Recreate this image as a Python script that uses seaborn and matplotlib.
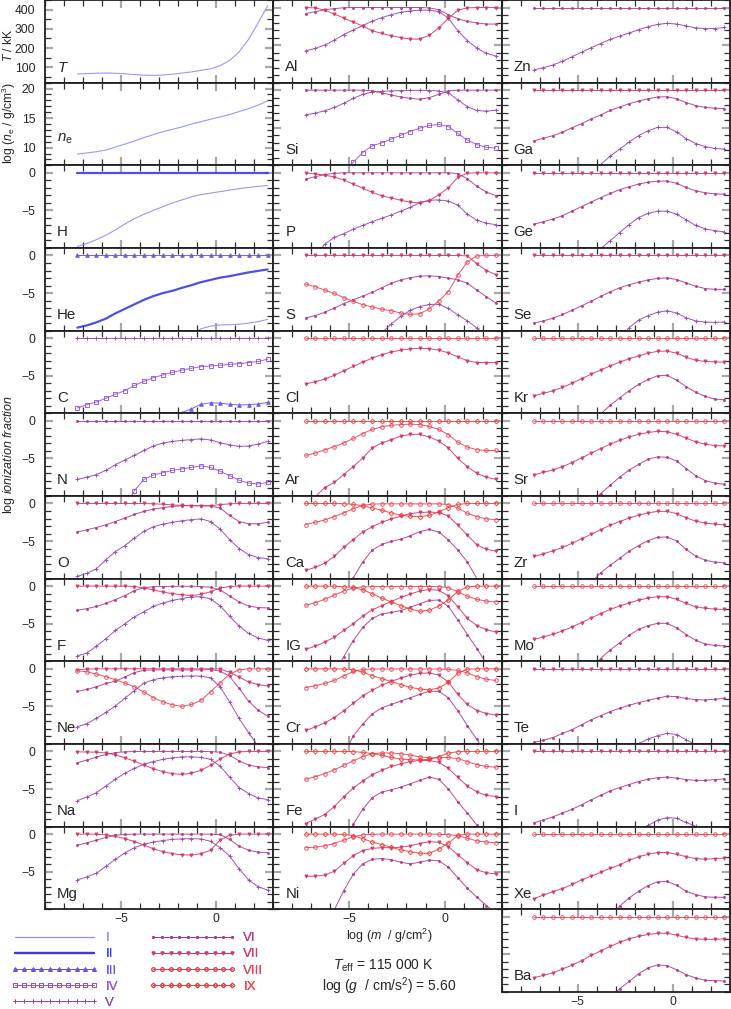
import matplotlib
matplotlib.use('Agg')
import matplotlib.pyplot as plt
from matplotlib.lines import Line2D
from matplotlib.ticker import FixedLocator, MultipleLocator
import seaborn as sns

N = float('nan')

# ===[ Data: ]=================================================================
LOG_M = [-7.3, -6.8, -6.3, -5.8, -5.3, -4.8, -4.3, -3.8, -3.3, -2.8, -2.3,
         -1.8, -1.3, -0.8, -0.3, 0.2, 0.7, 1.2, 1.7, 2.2, 2.7]
ZERO = [0.0] * 21

T_KK = [65, 67, 69, 70, 69, 66, 62, 59, 58, 60, 64, 70, 76, 84, 92, 108, 135,
        180, 245, 330, 420]
NE_DENS = [8.9, 9.1, 9.3, 9.6, 10.1, 10.6, 11.1, 11.7, 12.2, 12.7, 13.1, 13.5,
           14.0, 14.4, 14.8, 15.2, 15.6, 16.1, 16.6, 17.2, 17.9]

H_I = [-9.8, -9.4, -8.9, -8.3, -7.6, -6.8, -6.1, -5.5, -5.0, -4.5, -4.0, -3.6,
       -3.2, -2.9, -2.7, -2.5, -2.3, -2.1, -1.95, -1.8, -1.7]
H_II = ZERO
HE_I = [N, N, N, N, N, N, N, N, N, N, N, N, -10.6, -9.75, -9.4, -9.25, -9.2,
        -9.15, -9.0, -8.8, -8.5]
HE_II = [-9.6, -9.3, -8.9, -8.4, -7.7, -7.1, -6.5, -5.9, -5.4, -5.0, -4.7,
         -4.3, -3.95, -3.55, -3.25, -2.95, -2.75, -2.5, -2.25, -2.05, -1.85]
HE_III = ZERO
C_III = [N, N, N, N, N, N, N, N, N, N, -10.6, -9.9, -9.4, -8.8, -8.6, -8.65,
         -8.8, -8.9, -8.85, -8.75, -8.55]
C_IV = [-9.3, -8.85, -8.5, -8.0, -7.45, -7.0, -6.3, -5.75, -5.25, -4.9, -4.55,
        -4.25, -4.0, -3.8, -3.7, -3.6, -3.5, -3.4, -3.25, -3.1, -2.8]
C_V = ZERO
N_IV = [N, N, N, N, N, -11.5, -9.3, -7.8, -7.2, -6.9, -6.6, -6.4, -6.2, -6.0,
        -6.2, -6.7, -7.3, -7.9, -8.3, -8.4, -8.2]
N_V = [-7.8, -7.5, -7.15, -6.6, -5.85, -5.2, -4.6, -3.95, -3.35, -2.95, -2.75,
       -2.6, -2.5, -2.4, -2.55, -2.9, -3.2, -3.4, -3.35, -3.1, -2.75]
N_VI = ZERO
O_V = [-9.7, -9.3, -8.7, -7.5, -6.4, -5.6, -4.6, -3.7, -3.1, -2.75, -2.5,
       -2.3, -2.15, -2.05, -2.4, -3.4, -4.8, -6.0, -6.8, -7.2, -7.35]
O_VI = [-3.8, -3.5, -3.2, -2.85, -2.4, -1.95, -1.45, -1.05, -0.75, -0.55,
        -0.4, -0.3, -0.3, -0.3, -0.35, -0.6, -1.6, -2.4, -2.7, -2.7, -2.5]
O_VII = [0, 0, 0, 0, 0, 0, 0, 0, -0.05, -0.1, -0.2, -0.25, -0.3, -0.3, -0.3,
         -0.15, -0.05, 0, 0, 0, 0]
F_V = [-9.3, -8.9, -8.0, -7.0, -5.9, -5.0, -4.1, -3.4, -2.7, -2.25, -1.9,
       -1.65, -1.45, -1.4, -1.7, -2.6, -4.0, -5.3, -6.3, -6.9, -7.2]
F_VI = [-3.2, -3.0, -2.7, -2.3, -1.8, -1.25, -0.6, -0.2, -0.08, -0.05, -0.03,
        -0.02, -0.02, -0.05, -0.15, -0.5, -1.3, -2.1, -2.65, -2.85, -2.9]
F_VII = [0, 0, 0, 0, 0, 0, -0.05, -0.25, -0.5, -0.8, -1.0, -1.15, -1.25, -1.1,
         -0.75, -0.25, -0.05, 0, 0, 0, 0]
NE_V = [-7.7, -7.3, -6.6, -5.8, -4.95, -3.9, -2.9, -1.9, -1.45, -1.2, -1.05,
        -1.0, -0.95, -0.97, -1.2, -2.4, -4.4, -6.6, -8.5, -10.3, -12.0]
NE_VI = [-3.0, -2.75, -2.4, -1.95, -1.65, -1.1, -0.5, -0.2, -0.15, -0.15,
         -0.15, -0.15, -0.15, -0.15, -0.1, -0.3, -1.0, -2.6, -4.3, -5.5, -6.3]
NE_VII = [-0.1, -0.05, 0, 0, 0, 0, 0, 0, 0, 0, 0, 0, 0, 0, 0, -0.05, -0.45,
          -1.1, -1.75, -2.1, -2.3]
NE_VIII = [-0.25, -0.4, -0.7, -1.05, -1.45, -1.9, -2.4, -3.1, -3.85, -4.4,
           -4.8, -5.0, -4.75, -4.2, -3.05, -1.9, -0.7, -0.15, 0, 0, 0]
NA_V = [-6.55, -6.05, -5.5, -4.6, -3.7, -2.9, -2.25, -1.7, -1.35, -1.05,
        -0.85, -0.72, -0.7, -0.8, -1.05, -1.95, -3.4, -4.8, -5.6, -6.2, -6.4]
NA_VI = [-1.5, -1.15, -0.75, -0.4, -0.15, -0.05, 0, 0, 0, 0, 0, 0, 0, 0,
         -0.02, -0.1, -0.5, -1.25, -1.8, -2.05, -2.15]
NA_VII = [-0.05, -0.07, -0.1, -0.2, -0.45, -0.85, -1.3, -1.8, -2.3, -2.7,
          -2.95, -3.05, -2.9, -2.5, -1.85, -1.0, -0.35, -0.05, 0, 0, 0]
MG_V = [-6.1, -5.7, -5.2, -4.3, -3.35, -2.5, -1.8, -1.35, -1.05, -0.85, -0.7,
        -0.63, -0.6, -0.65, -0.95, -1.8, -2.9, -4.6, -6.1, -7.0, -7.45]
MG_VI = [-1.5, -1.15, -0.8, -0.45, -0.15, -0.05, 0, 0, 0, 0, 0, 0, 0, 0, 0,
         -0.05, -0.7, -1.6, -2.15, -2.4, -2.45]
MG_VII = [0, 0, -0.02, -0.1, -0.3, -0.6, -1.0, -1.45, -1.95, -2.35, -2.6,
          -2.75, -2.8, -2.6, -2.15, -0.8, -0.15, 0, 0, 0, 0]

AL_V = [-5.75, -5.45, -5.0, -4.35, -3.6, -3.0, -2.4, -1.8, -1.35, -0.95,
        -0.65, -0.45, -0.35, -0.35, -0.55, -1.4, -3.1, -4.4, -5.4, -6.1, -6.45]
AL_VI = [-0.8, -0.55, -0.3, -0.15, -0.03, 0, 0, 0, 0, 0, 0, 0, 0, -0.05, -0.3,
         -0.95, -1.5, -1.85, -2.05, -2.2, -2.2]
AL_VII = [0, -0.05, -0.35, -0.85, -1.4, -1.95, -2.45, -3.1, -3.45, -3.75,
          -4.0, -4.2, -4.2, -3.7, -2.7, -1.45, -0.35, -0.05, 0, 0, 0]
SI_IV = [N, N, N, N, -10.8, -9.6, -8.3, -7.4, -7.0, -6.5, -6.0, -5.5, -5.05,
         -4.7, -4.55, -4.85, -5.75, -6.65, -7.25, -7.6, -7.7]
SI_V = [-3.3, -3.05, -2.75, -2.3, -1.75, -1.1, -0.55, -0.25, -0.15, -0.1,
        -0.05, -0.02, -0.02, -0.05, -0.1, -0.35, -1.3, -2.2, -2.7, -2.8, -2.65]
SI_VI = [0, 0, 0, 0, 0, 0, 0, -0.1, -0.35, -0.65, -0.9, -1.1, -1.2, -1.0,
         -0.55, -0.1, 0, 0, 0, 0, 0]
P_V = [N, -11.2, -9.5, -8.6, -8.1, -7.5, -7.0, -6.5, -6.05, -5.6, -5.1, -4.6,
       -3.95, -3.65, -3.6, -3.75, -4.3, -5.5, -6.3, -6.7, -6.9]
P_VI = [-0.85, -0.5, -0.25, -0.05, 0, 0, 0, 0, 0, 0, 0, 0, 0, 0, 0, 0, -0.1,
        -0.8, -1.8, -2.55, -3.05]
P_VII = [0, -0.15, -0.3, -0.55, -0.95, -1.5, -2.05, -2.6, -3.05, -3.35, -3.65,
         -3.9, -4.0, -3.7, -2.9, -2.0, -0.6, -0.05, 0, 0, 0]
S_V = [N, N, N, N, N, N, N, N, -10.3, -9.1, -8.1, -7.3, -6.8, -6.5, -6.5,
       -7.05, -7.9, -8.7, -9.65, -10.8, N]
S_VI = [-8.3, -8.0, -7.55, -7.0, -6.4, -5.9, -5.4, -4.9, -4.3, -3.7, -3.25,
        -2.95, -2.75, -2.7, -2.8, -3.0, -3.25, -3.7, -4.6, -5.5, -6.3]
S_VII = [0, 0, 0, 0, 0, 0, 0, 0, 0, 0, 0, 0, 0, 0, 0, 0, 0, -0.05, -1.1, -2.0,
         -2.55]
S_VIII = [-3.8, -4.15, -4.6, -5.05, -5.6, -6.1, -6.55, -6.85, -7.15, -7.35,
          -7.65, -7.85, -7.75, -7.1, -6.05, -4.8, -2.6, -0.85, -0.05, 0, 0]
CL_VII = [-6.1, -5.8, -5.45, -4.95, -4.35, -3.75, -3.2, -2.65, -2.2, -1.85,
          -1.6, -1.42, -1.35, -1.4, -1.6, -1.95, -2.5, -3.0, -3.25, -3.25, -3.25]
CL_VIII = ZERO
AR_VII = [N, -10.1, -8.9, -8.2, -7.15, -6.1, -4.95, -3.6, -2.95, -2.5, -2.05,
          -1.8, -1.8, -2.15, -2.7, -3.6, -5.0, -6.1, -7.0, -7.5, -7.8]
AR_VIII = [-4.6, -4.3, -3.85, -3.45, -2.95, -2.35, -1.7, -1.15, -0.8, -0.6,
           -0.5, -0.45, -0.5, -0.75, -1.15, -1.85, -2.85, -3.5, -3.85, -3.95,
           -3.95]
AR_IX = ZERO
CA_VI = [N, N, N, N, -12.0, -9.9, -7.8, -6.2, -5.45, -5.05, -4.75, -4.3,
         -3.75, -3.45, -3.8, -4.85, -6.2, -7.8, -10.0, -12.0, N]
CA_VII = [-8.9, -8.5, -7.95, -7.05, -5.85, -4.8, -3.8, -3.1, -2.5, -2.05, -1.7,
          -1.35, -1.2, -1.15, -1.2, -1.65, -2.9, -4.2, -5.5, -6.1, -6.35]
CA_VIII = [-2.8, -2.5, -2.2, -1.75, -1.25, -0.7, -0.25, -0.08, -0.05, -0.05,
           -0.05, -0.05, -0.05, -0.05, -0.05, -0.15, -0.6, -1.3, -1.75, -2.05,
           -2.15]
CA_IX = [0, 0, 0, 0, -0.03, -0.12, -0.3, -0.6, -0.9, -1.25, -1.55, -1.7,
         -1.75, -1.6, -1.1, -0.55, -0.12, 0, 0, 0, 0]
IG_VI = [N, N, N, -11.5, -9.4, -7.25, -5.5, -4.3, -3.7, -3.5, -3.25, -2.8,
         -2.35, -1.9, -1.85, -2.7, -4.5, -6.45, -8.3, -10.3, N]
IG_VII = [-8.4, -8.0, -7.45, -6.8, -5.9, -5.0, -4.0, -3.15, -2.6, -2.05, -1.5,
          -1.05, -0.65, -0.45, -0.55, -1.3, -2.75, -4.3, -5.25, -5.8, -6.1]
IG_VIII = [-2.55, -2.2, -1.75, -1.2, -0.65, -0.25, -0.1, -0.05, -0.05, -0.05,
           -0.05, -0.05, -0.05, -0.05, -0.05, -0.2, -0.75, -1.35, -1.75, -2.0,
           -2.1]
IG_IX = [0, 0, 0, -0.02, -0.08, -0.18, -0.5, -1.0, -1.6, -2.1, -2.6, -3.05,
         -3.35, -3.2, -2.65, -1.85, -0.7, -0.1, 0, 0, 0]
CR_VI = [N, N, N, N, -11.6, -8.95, -7.35, -6.0, -5.2, -4.75, -4.3, -3.85,
         -3.4, -3.0, -3.0, -3.85, -5.6, -7.55, -9.4, -11.3, N]
CR_VII = [-8.2, -7.75, -7.2, -6.5, -5.6, -4.6, -3.6, -2.85, -2.2, -1.65,
          -1.25, -0.85, -0.6, -0.55, -0.85, -1.75, -3.4, -4.75, -5.55, -5.95,
          -6.15]
CR_VIII = [-2.5, -2.25, -1.95, -1.55, -0.95, -0.35, -0.08, -0.03, -0.02,
           -0.02, -0.02, -0.02, -0.02, -0.02, -0.03, -0.08, -0.2, -0.55, -1.05,
           -1.4, -1.55]
CR_IX = [0, 0, 0, 0, -0.03, -0.12, -0.45, -0.9, -1.3, -1.7, -2.1, -2.45, -2.7,
         -2.8, -2.55, -1.8, -0.6, -0.05, 0, 0, 0]
FE_VI = [N, N, N, N, -12.2, -9.7, -7.7, -6.15, -5.4, -5.1, -4.75, -4.3, -3.85,
         -3.4, -3.7, -5.0, -6.7, -8.2, -9.8, -11.5, N]
FE_VII = [-9.6, -9.0, -8.4, -7.35, -6.05, -4.85, -3.95, -3.1, -2.5, -2.0,
          -1.65, -1.35, -1.2, -1.2, -1.45, -2.25, -3.45, -4.6, -5.4, -5.85,
          -6.0]
FE_VIII = [-3.7, -3.35, -2.95, -2.45, -1.85, -1.25, -0.7, -0.3, -0.2, -0.2,
           -0.3, -0.5, -0.7, -0.85, -0.85, -0.8, -0.95, -1.35, -1.75, -2.0,
           -2.1]
FE_IX = [0, 0, 0, 0, 0, -0.02, -0.12, -0.3, -0.5, -0.8, -1.0, -1.1, -1.12,
         -1.05, -0.7, -0.2, -0.03, 0, 0, 0, 0]
NI_VI = [N, N, -12.3, -10.1, -7.55, -5.35, -3.95, -3.35, -3.25, -3.4, -3.75,
         -3.95, -3.75, -3.45, -3.55, -4.4, -5.8, -7.2, -8.4, -9.5, -10.6]
NI_VII = [-5.6, -5.6, -5.45, -4.95, -3.9, -2.85, -2.2, -1.9, -1.8, -1.8,
          -1.75, -1.55, -1.25, -1.0, -1.1, -1.65, -2.75, -3.8, -4.75, -5.15,
          -5.3]
NI_VIII = [-1.8, -1.75, -1.55, -1.25, -0.8, -0.35, -0.1, -0.02, 0, 0, 0, 0,
           0, 0, -0.02, -0.08, -0.2, -0.55, -0.9, -1.05, -1.15]
NI_IX = [0, 0, 0, 0, -0.05, -0.2, -0.6, -1.05, -1.4, -1.75, -2.1, -2.35,
         -2.55, -2.55, -2.0, -1.2, -0.15, 0, 0, 0, 0]

ZN_V = [-8.3, -8.0, -7.65, -7.15, -6.55, -5.95, -5.35, -4.8, -4.25, -3.8,
        -3.4, -2.95, -2.55, -2.25, -2.1, -2.2, -2.45, -2.7, -2.8, -2.8, -2.65]
ZN_VI = ZERO
GA_V = [N, N, N, N, N, N, -11.2, -9.9, -8.8, -7.85, -6.9, -6.05, -5.4, -4.95,
        -4.95, -5.55, -6.45, -7.1, -7.5, -7.75, -7.85]
GA_VI = [-6.75, -6.4, -6.05, -5.6, -5.0, -4.45, -3.85, -3.3, -2.7, -2.25, -1.8,
         -1.45, -1.15, -0.9, -0.88, -1.15, -1.65, -2.05, -2.3, -2.4, -2.45]
GA_VII = ZERO
GE_V = [N, N, N, N, N, N, -11.3, -10.1, -9.05, -7.95, -6.9, -5.95, -5.4, -5.1,
        -5.1, -5.5, -6.25, -7.0, -7.45, -7.7, -7.85]
GE_VI = [-6.85, -6.5, -6.15, -5.7, -5.1, -4.5, -3.9, -3.3, -2.75, -2.25,
         -1.85, -1.5, -1.25, -1.1, -1.1, -1.4, -1.95, -2.4, -2.65, -2.8, -2.85]
GE_VII = ZERO
SE_V = [N, N, N, N, N, N, N, N, N, -11.3, -9.6, -8.6, -8.0, -7.55, -7.35,
        -7.65, -8.3, -8.7, -8.85, -8.9, -8.85]
SE_VI = [-9.0, -8.7, -8.35, -7.85, -7.3, -6.7, -6.1, -5.45, -4.85, -4.3, -3.9,
         -3.55, -3.25, -3.05, -2.98, -3.2, -3.65, -4.1, -4.4, -4.5, -4.5]
SE_VII = ZERO
KR_VI = [N, N, N, N, N, N, -11.5, -10.1, -8.95, -7.95, -7.0, -6.15, -5.5,
         -5.0, -4.95, -5.6, -6.45, -7.2, -7.75, -8.1, -8.2]
KR_VII = [-7.65, -7.35, -7.0, -6.55, -6.0, -5.4, -4.8, -4.25, -3.7, -3.2,
          -2.75, -2.35, -2.0, -1.75, -1.72, -2.0, -2.55, -2.95, -3.1, -3.15,
          -3.2]
KR_VIII = ZERO
SR_VI = [N, N, N, N, N, N, -11.0, -9.7, -8.6, -7.5, -6.55, -5.8, -5.1, -4.8,
         -4.85, -5.35, -6.35, -7.3, -7.95, -8.3, -8.45]
SR_VII = [-7.2, -6.85, -6.55, -6.1, -5.55, -4.95, -4.3, -3.7, -3.1, -2.6,
          -2.15, -1.8, -1.55, -1.4, -1.45, -1.8, -2.3, -2.8, -3.1, -3.3, -3.35]
SR_VIII = ZERO
ZR_VI = [N, N, N, N, N, -12.0, -10.5, -9.25, -8.25, -7.3, -6.35, -5.6, -4.95,
         -4.5, -4.45, -5.0, -6.1, -7.0, -7.55, -7.8, -7.9]
ZR_VII = [-7.05, -6.7, -6.3, -5.85, -5.3, -4.7, -4.1, -3.5, -2.9, -2.4, -1.95,
          -1.55, -1.25, -1.05, -1.05, -1.35, -1.9, -2.35, -2.6, -2.75, -2.85]
ZR_VIII = ZERO
MO_VI = [N, N, N, N, N, N, -11.3, -9.65, -8.5, -7.55, -6.55, -5.75, -5.25,
         -4.95, -4.95, -5.55, -6.45, -7.2, -7.7, -7.9, -7.95]
MO_VII = [-7.1, -6.75, -6.4, -5.95, -5.45, -4.85, -4.25, -3.65, -3.1, -2.65,
          -2.25, -1.85, -1.6, -1.4, -1.42, -1.75, -2.3, -2.75, -2.95, -3.05,
          -3.1]
MO_VIII = ZERO
TE_V = [N, N, N, N, N, N, N, N, N, N, -11.0, -9.95, -9.35, -8.9, -8.6, -8.75,
        -9.45, -10.1, -10.8, N, N]
TE_VI = [-9.8, -9.5, -9.15, -8.6, -8.1, -7.45, -6.8, -6.25, -5.7, -5.25,
         -4.85, -4.5, -4.2, -3.9, -3.65, -3.7, -3.95, -4.1, -4.15, -4.05, -3.95]
TE_VII = ZERO
I_V = [N, N, N, N, N, N, N, N, N, N, N, -10.8, -9.85, -9.15, -8.8, -8.9,
       -9.45, -9.95, -10.5, N, N]
I_VI = [-9.5, -9.1, -8.7, -8.2, -7.7, -7.1, -6.45, -5.85, -5.25, -4.8, -4.4,
        -4.0, -3.7, -3.5, -3.4, -3.55, -3.75, -3.85, -3.85, -3.75, -3.65]
I_VII = ZERO
XE_VI = [N, N, N, N, N, N, N, N, -10.8, -9.6, -8.5, -7.6, -6.85, -6.35, -6.3,
         -6.8, -7.6, -8.05, -8.35, -8.4, -8.4]
XE_VII = [-8.6, -8.1, -7.65, -7.25, -6.7, -6.1, -5.6, -5.1, -4.55, -4.1, -3.5,
          -3.0, -2.7, -2.45, -2.45, -2.7, -3.0, -3.25, -3.35, -3.25, -3.2]
XE_VIII = ZERO
BA_VI = [N, N, N, N, N, N, N, N, -10.6, -9.6, -8.6, -7.6, -6.8, -6.4, -6.5,
         -7.05, -7.7, -8.15, -8.45, -8.5, -8.55]
BA_VII = [-8.1, -7.8, -7.45, -6.95, -6.45, -5.85, -5.15, -4.55, -3.95, -3.4,
          -2.95, -2.6, -2.35, -2.2, -2.2, -2.45, -2.75, -2.95, -3.0, -3.0,
          -2.95]
BA_VIII = ZERO

# ion stage -> (colour, line width, marker, marker size, open marker)
ION_STYLE = {
    'I': ('#8c8cff', 0.8, None, 0, False),
    'II': ('#3c3ce6', 1.6, None, 0, False),
    'III': ('#6e50e6', 0.7, '^', 2.6, False),
    'IV': ('#9650dc', 0.7, 's', 2.6, True),
    'V': ('#9641b4', 0.7, '+', 2.8, False),
    'VI': ('#b4378c', 0.7, '.', 2.8, False),
    'VII': ('#d23769', 0.7, 'v', 2.2, False),
    'VIII': ('#eb4155', 0.7, 'o', 2.6, True),
    'IX': ('#f53c3c', 0.7, 'D', 2.4, True),
}
ION_ORDER = ['I', 'II', 'III', 'IV', 'V', 'VI', 'VII', 'VIII', 'IX']

COLUMNS = [
    [('H', [('I', H_I), ('II', H_II)]),
     ('He', [('I', HE_I), ('II', HE_II), ('III', HE_III)]),
     ('C', [('III', C_III), ('IV', C_IV), ('V', C_V)]),
     ('N', [('IV', N_IV), ('V', N_V), ('VI', N_VI)]),
     ('O', [('V', O_V), ('VI', O_VI), ('VII', O_VII)]),
     ('F', [('V', F_V), ('VI', F_VI), ('VII', F_VII)]),
     ('Ne', [('V', NE_V), ('VI', NE_VI), ('VII', NE_VII), ('VIII', NE_VIII)]),
     ('Na', [('V', NA_V), ('VI', NA_VI), ('VII', NA_VII)]),
     ('Mg', [('V', MG_V), ('VI', MG_VI), ('VII', MG_VII)])],
    [('Al', [('V', AL_V), ('VI', AL_VI), ('VII', AL_VII)]),
     ('Si', [('IV', SI_IV), ('V', SI_V), ('VI', SI_VI)]),
     ('P', [('V', P_V), ('VI', P_VI), ('VII', P_VII)]),
     ('S', [('V', S_V), ('VI', S_VI), ('VII', S_VII), ('VIII', S_VIII)]),
     ('Cl', [('VII', CL_VII), ('VIII', CL_VIII)]),
     ('Ar', [('VII', AR_VII), ('VIII', AR_VIII), ('IX', AR_IX)]),
     ('Ca', [('VI', CA_VI), ('VII', CA_VII), ('VIII', CA_VIII), ('IX', CA_IX)]),
     ('IG', [('VI', IG_VI), ('VII', IG_VII), ('VIII', IG_VIII), ('IX', IG_IX)]),
     ('Cr', [('VI', CR_VI), ('VII', CR_VII), ('VIII', CR_VIII), ('IX', CR_IX)]),
     ('Fe', [('VI', FE_VI), ('VII', FE_VII), ('VIII', FE_VIII), ('IX', FE_IX)]),
     ('Ni', [('VI', NI_VI), ('VII', NI_VII), ('VIII', NI_VIII), ('IX', NI_IX)])],
    [('Zn', [('V', ZN_V), ('VI', ZN_VI)]),
     ('Ga', [('V', GA_V), ('VI', GA_VI), ('VII', GA_VII)]),
     ('Ge', [('V', GE_V), ('VI', GE_VI), ('VII', GE_VII)]),
     ('Se', [('V', SE_V), ('VI', SE_VI), ('VII', SE_VII)]),
     ('Kr', [('VI', KR_VI), ('VII', KR_VII), ('VIII', KR_VIII)]),
     ('Sr', [('VI', SR_VI), ('VII', SR_VII), ('VIII', SR_VIII)]),
     ('Zr', [('VI', ZR_VI), ('VII', ZR_VII), ('VIII', ZR_VIII)]),
     ('Mo', [('VI', MO_VI), ('VII', MO_VII), ('VIII', MO_VIII)]),
     ('Te', [('V', TE_V), ('VI', TE_VI), ('VII', TE_VII)]),
     ('I', [('V', I_V), ('VI', I_VI), ('VII', I_VII)]),
     ('Xe', [('VI', XE_VI), ('VII', XE_VII), ('VIII', XE_VIII)]),
     ('Ba', [('VI', BA_VI), ('VII', BA_VII), ('VIII', BA_VIII)])],
]

# ===[ Layout: ]===============================================================
W_PX, H_PX = 731.0, 1009.0
ROW_H = 82.66
COL_X = [45.0, 273.3, 501.6]
COL_W = 228.3
FS_TICK = 8.7
FS_NAME = 10.8


def fx(px):
    return px / W_PX


def fy(py):
    return 1.0 - py / H_PX


def add_panel(fig, col, row):
    return fig.add_axes([fx(COL_X[col]), fy((row + 1) * ROW_H),
                         COL_W / W_PX, ROW_H / H_PX])


def style_axes(ax, ylim, ymajor, yminor, show_y, show_x):
    ax.set_xlim(-9, 3)
    ax.set_ylim(*ylim)
    ax.xaxis.set_major_locator(FixedLocator([-5, 0]))
    ax.xaxis.set_minor_locator(MultipleLocator(1))
    ax.yaxis.set_major_locator(FixedLocator(ymajor))
    ax.yaxis.set_minor_locator(MultipleLocator(yminor))
    ax.minorticks_on()
    ax.xaxis.set_minor_locator(MultipleLocator(1))
    ax.yaxis.set_minor_locator(MultipleLocator(yminor))
    ax.tick_params(which='both', direction='in', top=True, right=True,
                   labelsize=FS_TICK)
    ax.tick_params(which='major', length=6, width=1.6, color='#a8a8a8')
    ax.tick_params(which='minor', length=4, width=0.9, color='#303030')
    ax.tick_params(axis='y', pad=7, labelleft=show_y)
    ax.tick_params(axis='x', pad=3, labelbottom=show_x)
    ax.set_xlabel('')
    ax.set_ylabel('')
    for sp in ax.spines.values():
        sp.set_linewidth(1.3)
        sp.set_color('#202020')


def draw_ion(ax, ion, values):
    color, lw, marker, ms, hollow = ION_STYLE[ion]
    kw = dict(color=color, lw=lw, alpha=0.9)
    if marker:
        kw.update(marker=marker, ms=ms, mec=color,
                  mfc='none' if hollow else color, mew=0.7)
    sns.lineplot(x=LOG_M, y=values, ax=ax, estimator=None, errorbar=None,
                 sort=False, **kw)


def main():
    sns.set_theme(style='ticks')
    plt.rcParams['font.family'] = ['Liberation Sans', 'DejaVu Sans']
    plt.rcParams['mathtext.fontset'] = 'custom'
    plt.rcParams['mathtext.rm'] = 'Liberation Sans'
    plt.rcParams['mathtext.it'] = 'Liberation Sans:italic'
    plt.rcParams['axes.linewidth'] = 1.3
    plt.rcParams['xtick.minor.visible'] = True
    plt.rcParams['ytick.minor.visible'] = True

    fig = plt.figure(figsize=(7.31, 10.09), dpi=100)

    # temperature and electron density panels
    ax = add_panel(fig, 0, 0)
    draw_ion(ax, 'I', T_KK)
    style_axes(ax, (20, 450), [100, 200, 300, 400], 50, True, False)
    ax.text(0.053, 0.13, '$T$', transform=ax.transAxes, fontsize=FS_NAME)

    ax = add_panel(fig, 0, 1)
    draw_ion(ax, 'I', NE_DENS)
    style_axes(ax, (7, 21), [10, 15, 20], 1, True, False)
    ax.text(0.053, 0.285, '$n_\\mathrm{e}$', transform=ax.transAxes,
            fontsize=FS_NAME)

    for col, panels in enumerate(COLUMNS):
        first = 2 if col == 0 else 0
        for k, (name, curves) in enumerate(panels):
            row = first + k
            ax = add_panel(fig, col, row)
            for ion, values in curves:
                draw_ion(ax, ion, values)
            style_axes(ax, (-10, 1), [-5, 0], 1, col == 0,
                       k == len(panels) - 1)
            ax.text(0.053, 0.14, name, transform=ax.transAxes,
                    fontsize=FS_NAME)

    # axis titles
    fig.text(fx(9), fy(45), '$T$ / kK', rotation=90, ha='center',
             va='center', fontsize=8.7)
    fig.text(fx(9), fy(123), 'log ($n_\\mathrm{e}$ / g/cm$^3$)', rotation=90,
             ha='center', va='center', fontsize=8.7)
    fig.text(fx(9), fy(455), 'log $\\it{ionization\\ fraction}$', rotation=90,
             ha='center', va='center', fontsize=9)
    fig.text(fx(389), fy(936), 'log ($m$  / g/cm$^2$)', ha='center',
             va='center', fontsize=9)
    fig.text(fx(383), fy(966), '$T_\\mathrm{eff}$ = 115 000 K', ha='center',
             va='center', fontsize=10)
    fig.text(fx(389), fy(986), 'log ($g$  / cm/s$^2$) = 5.60', ha='center',
             va='center', fontsize=10)

    # legend of ionization stages
    handles = []
    for ion in ION_ORDER:
        color, lw, marker, ms, hollow = ION_STYLE[ion]
        handles.append(Line2D([], [], color=color, lw=lw, marker=marker,
                              ms=ms, mec=color, mew=0.7,
                              mfc='none' if hollow else color))
    for x0, part in [(11, slice(0, 5)), (149, slice(5, 9))]:
        leg = fig.legend(handles[part], ION_ORDER[part], loc='upper left',
                         bbox_to_anchor=(fx(x0), fy(932)), frameon=False,
                         numpoints=10, handlelength=6.6, handletextpad=0.55,
                         labelspacing=0.3, borderpad=0, borderaxespad=0,
                         fontsize=9.5, labelcolor='linecolor')
        fig.add_artist(leg)

    fig.savefig('out.png', dpi=100)


if __name__ == '__main__':
    main()
